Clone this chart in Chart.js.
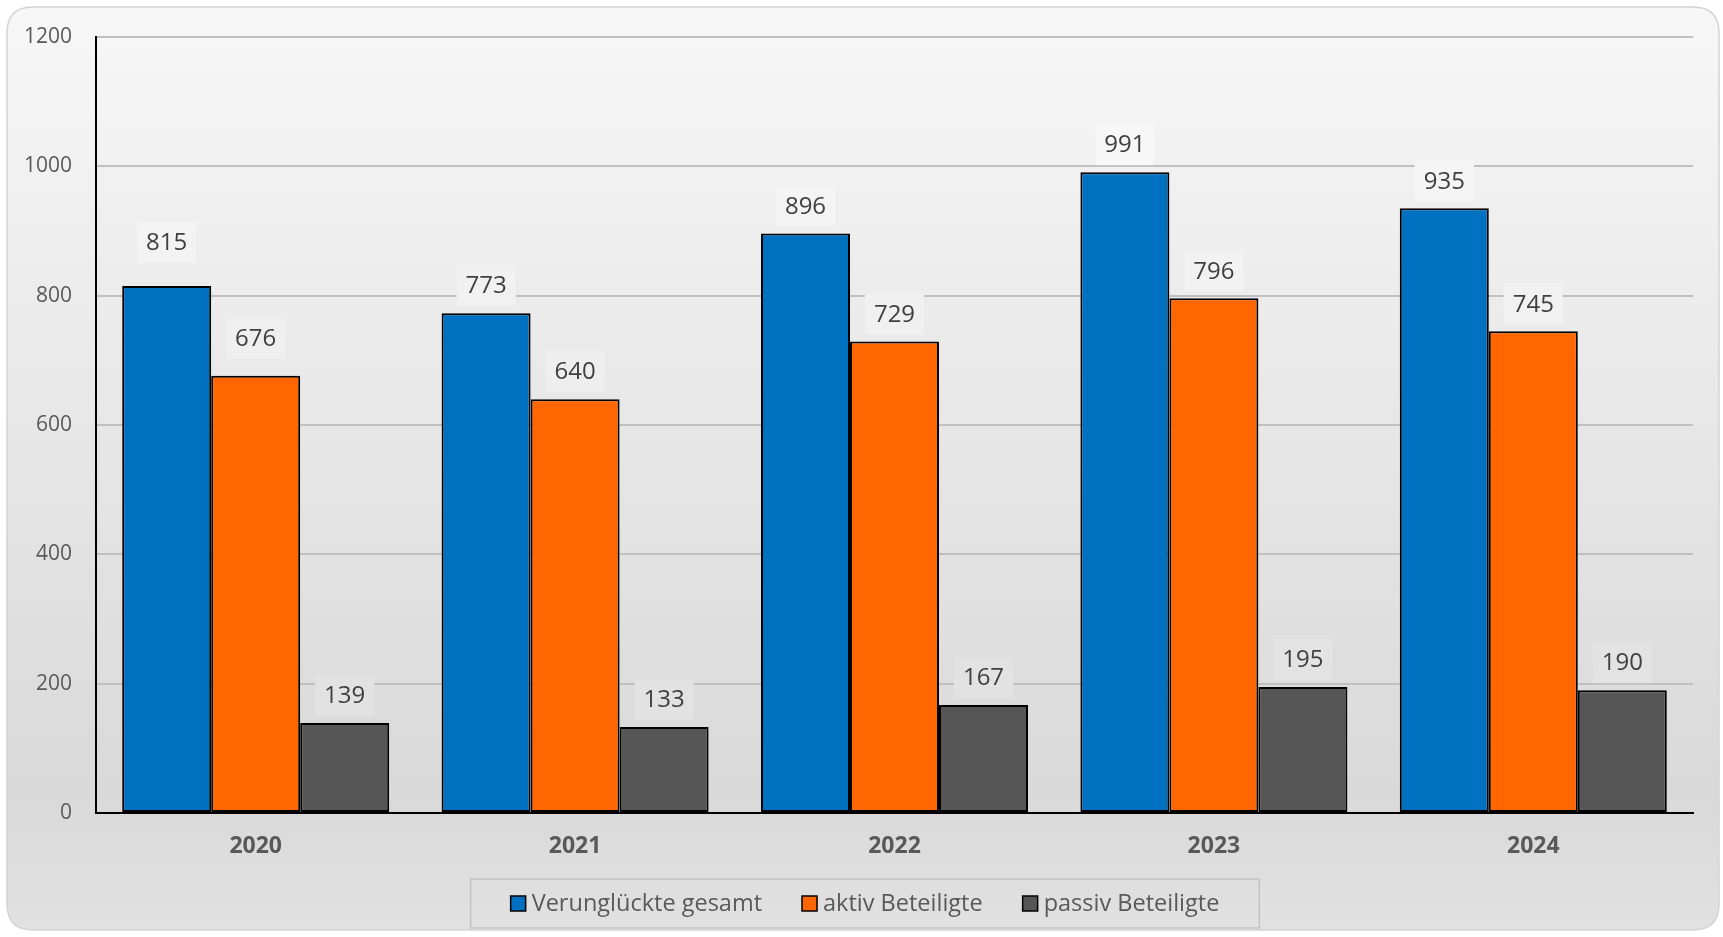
<!DOCTYPE html>
<html><head><meta charset="utf-8">
<script src="https://cdn.jsdelivr.net/npm/chart.js@4.4.1/dist/chart.umd.min.js"></script>
<style>html,body{margin:0;padding:0;background:#fff;}#wrap{width:1723px;height:937px;position:relative;}</style>
</head><body><div id="wrap"><canvas id="c" width="1723" height="937"></canvas></div>
<script>
const categories = ['2020','2021','2022','2023','2024'];
const seriesNames = ['Verunglückte gesamt','aktiv Beteiligte','passiv Beteiligte'];
const verunglueckteGesamt = [815,773,896,991,935];
const aktivBeteiligte = [676,640,729,796,745];
const passivBeteiligte = [139,133,167,195,190];
const yTicks = [0,200,400,600,800,1000,1200];
const seriesColors = ['#0070c0','#ff6600','#565656'];

const FONT = "'Open Sans', 'Noto Sans', sans-serif";
const BOX = {x0:7, y0:7, x1:1719, y1:930, r:26};
const STOPS = [[0,[247,247,247]],[0.85,[217,217,217]],[1,[225,225,225]]];

function bgAt(y){
  let t = (y - BOX.y0)/(BOX.y1 - BOX.y0);
  t = Math.max(0, Math.min(1, t));
  for (let i=0;i<STOPS.length-1;i++){
    const [a,ca]=STOPS[i],[b,cb]=STOPS[i+1];
    if (t>=a && t<=b){
      const f=(t-a)/(b-a);
      return ca.map((v,k)=>Math.round(v+(cb[k]-v)*f));
    }
  }
  return STOPS[STOPS.length-1][1];
}

function roundRect(ctx,x,y,w,h,r){
  ctx.beginPath();
  ctx.moveTo(x+r,y);ctx.lineTo(x+w-r,y);ctx.quadraticCurveTo(x+w,y,x+w,y+r);
  ctx.lineTo(x+w,y+h-r);ctx.quadraticCurveTo(x+w,y+h,x+w-r,y+h);
  ctx.lineTo(x+r,y+h);ctx.quadraticCurveTo(x,y+h,x,y+h-r);
  ctx.lineTo(x,y+r);ctx.quadraticCurveTo(x,y,x+r,y);ctx.closePath();
}

const bgPlugin = {
  id:'bg',
  beforeDraw(chart){
    const ctx=chart.ctx;
    ctx.save();
    ctx.fillStyle='#ffffff';ctx.fillRect(0,0,chart.width,chart.height);
    const g=ctx.createLinearGradient(0,BOX.y0,0,BOX.y1);
    STOPS.forEach(([p,c])=>g.addColorStop(p,`rgb(${c.join(',')})`));
    roundRect(ctx,BOX.x0,BOX.y0,BOX.x1-BOX.x0,BOX.y1-BOX.y0,BOX.r);
    ctx.fillStyle=g;ctx.fill();
    ctx.lineWidth=1.5;ctx.strokeStyle='#d4d4d4';ctx.stroke();
    ctx.restore();
  }
};

const labelPlugin = {
  id:'valLabels',
  afterDatasetsDraw(chart, args, opts){
    const ctx=chart.ctx;
    ctx.save();
    ctx.font=`24px ${FONT}`;
    ctx.textAlign='center';ctx.textBaseline='middle';
    chart.data.datasets.forEach((ds,di)=>{
      const meta=chart.getDatasetMeta(di);
      meta.data.forEach((bar,i)=>{
        const txt=String(ds.data[i]);
        const extra=(opts.extraLift||{})[di+'-'+i]||0;
        const cy=bar.y-27.5-extra;
        const w=ctx.measureText(txt).width+18, h=41;
        const c=bgAt(cy).map(v=>Math.min(255,v+5));
        ctx.fillStyle=`rgb(${c.join(',')})`;
        ctx.fillRect(bar.x-w/2,cy-h/2,w,h);
        ctx.fillStyle='#404040';
        ctx.fillText(txt,bar.x,cy+1);
      });
    });
    ctx.restore();
  }
};

const legendPlugin = {
  id:'boxLegend',
  afterDraw(chart){
    const ctx=chart.ctx;
    ctx.save();
    ctx.font=`23.5px ${FONT}`;
    const sq=15, gap=6, spacing=40, padX=40;
    const items=chart.data.datasets.map(d=>({label:d.label,color:d.backgroundColor,w:ctx.measureText(d.label).width}));
    const total=items.reduce((s,it)=>s+sq+gap+it.w,0)+spacing*(items.length-1);
    const cx=865, by0=879, bh=49;
    const bw=total+padX*2;
    ctx.strokeStyle='#c4c4c4';ctx.lineWidth=1.5;
    ctx.strokeRect(cx-bw/2,by0,bw,bh);
    let x=cx-total/2;
    const cy=by0+bh/2;
    ctx.textBaseline='middle';ctx.textAlign='left';
    items.forEach(it=>{
      ctx.fillStyle=it.color;ctx.fillRect(x,cy-sq/2,sq,sq);
      ctx.strokeStyle='#000';ctx.lineWidth=1.5;ctx.strokeRect(x,cy-sq/2,sq,sq);
      ctx.fillStyle='#595959';
      ctx.fillText(it.label,x+sq+gap,cy+1);
      x+=sq+gap+it.w+spacing;
    });
    ctx.restore();
  }
};

const seriesValues=[verunglueckteGesamt,aktivBeteiligte,passivBeteiligte];

new Chart(document.getElementById('c'),{
  type:'bar',
  data:{
    labels:categories,
    datasets:seriesNames.map((n,i)=>({
      label:n,data:seriesValues[i],backgroundColor:seriesColors[i],
      borderColor:'#000000',borderWidth:2,borderSkipped:false,
      categoryPercentage:0.836,barPercentage:1
    }))
  },
  options:{
    responsive:false,animation:false,devicePixelRatio:1,
    layout:{padding:{top:37,right:30,bottom:0,left:0}},
    plugins:{legend:{display:false},tooltip:{enabled:false},
      valLabels:{extraLift:{'0-0':16,'1-0':10}}},
    scales:{
      x:{
        grid:{display:false,drawTicks:false},
        border:{display:true,color:'#000',width:2},
        ticks:{padding:20,color:'#595959',font:{family:FONT,size:23,weight:'bold'}},
        afterFit(s){s.height=124;}
      },
      y:{
        min:0,max:1200,
        afterBuildTicks(s){s.ticks=yTicks.map(v=>({value:v}));},
        ticks:{padding:24,color:'#595959',font:{family:FONT,size:21},callback:v=>String(v)},
        grid:{color:'#c0c0c0',lineWidth:2,drawTicks:false},
        border:{display:true,color:'#000',width:2},
        afterFit(s){s.width=96;}
      }
    }
  },
  plugins:[bgPlugin,labelPlugin,legendPlugin]
});
</script></body></html>
